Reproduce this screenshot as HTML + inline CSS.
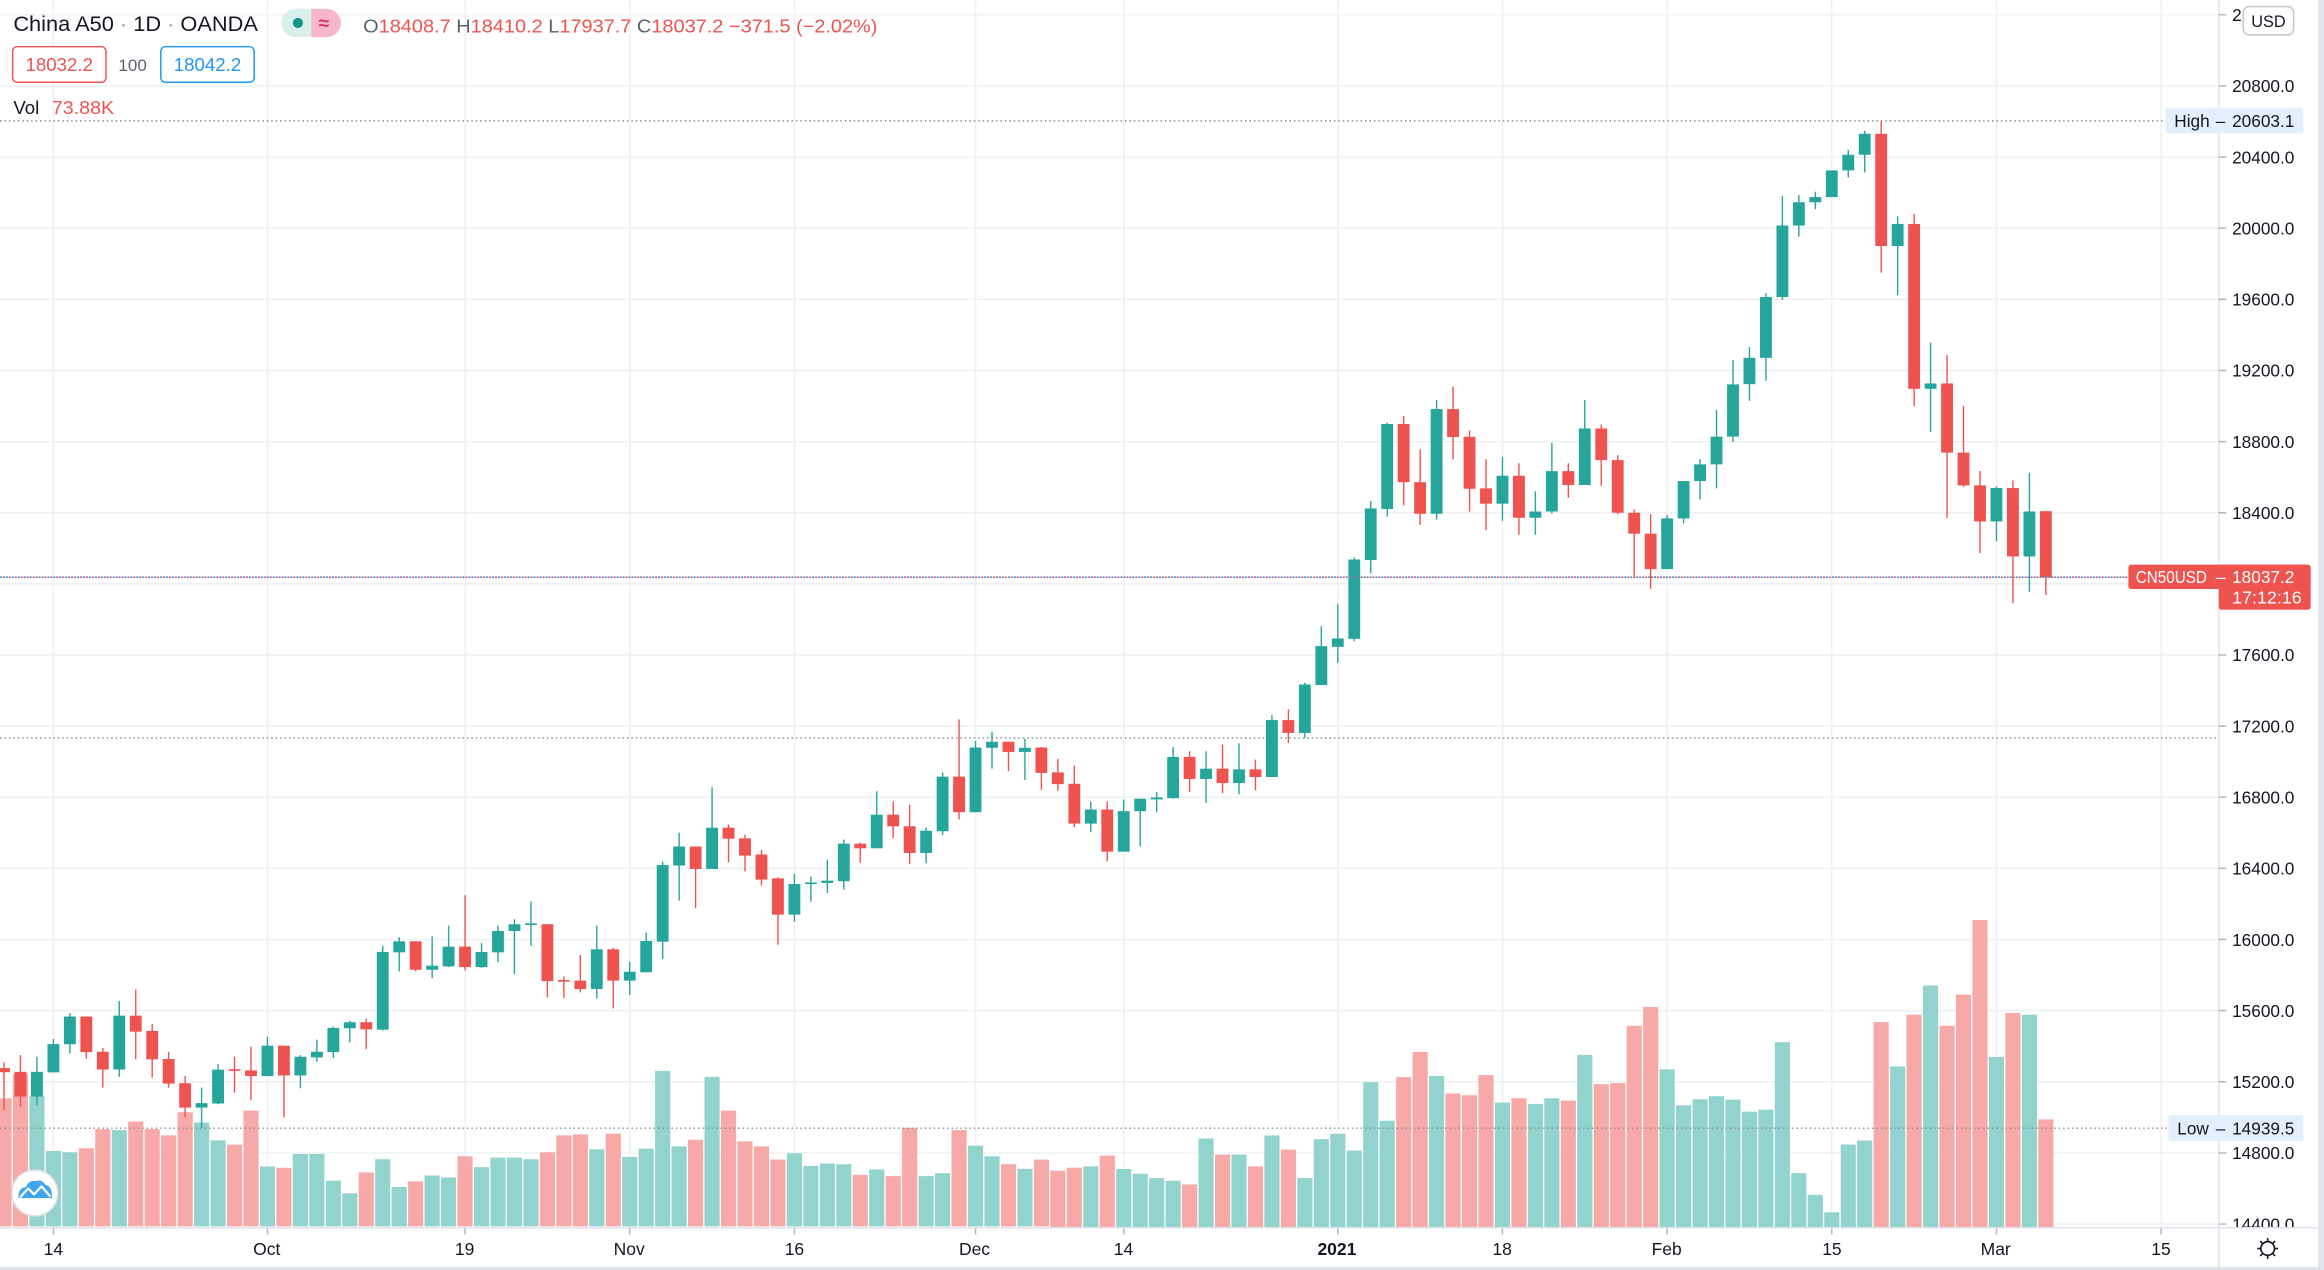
<!DOCTYPE html>
<html><head><meta charset="utf-8"><style>
html,body{margin:0;padding:0;background:#fff;}
svg{display:block;}
text{font-family:"Liberation Sans",Arial,sans-serif;}
</style></head><body>
<svg width="2324" height="1270" viewBox="0 0 1568 857" preserveAspectRatio="none" xmlns="http://www.w3.org/2000/svg">
<defs>
<clipPath id="pane"><rect x="0" y="0" width="1497" height="828"/></clipPath>
<clipPath id="axis"><rect x="1497" y="0" width="67" height="828"/></clipPath>
</defs>
<rect width="1568" height="857" fill="#fff"/>
<!-- grid -->
<g stroke="#eef0f4" stroke-width="1">
<path d="M0 10H1497M0 58H1497M0 106H1497M0 154H1497M0 202H1497M0 250H1497M0 298H1497M0 346H1497M0 394H1497M0 442H1497M0 490H1497M0 538H1497M0 586H1497M0 634H1497M0 682H1497M0 730H1497M0 778H1497M0 826H1497"/>
<path d="M36 0V828M180.5 0V828M313.8 0V828M424.9 0V828M536 0V828M658.2 0V828M758.2 0V828M902.6 0V828M1013.7 0V828M1124.8 0V828M1235.9 0V828M1347 0V828M1458.1 0V828"/>
</g>
<g clip-path="url(#pane)">
<!-- volume part 1 -->
<g transform="matrix(11.11 0 0 0.2233 2.7 702.53)">
<g fill="#f7a9a8">
<rect x="-0.46" y="173" width="0.92" height="387"/><rect x="0.54" y="99" width="0.92" height="461"/><rect x="4.54" y="324" width="0.92" height="236"/><rect x="5.54" y="266" width="0.92" height="294"/><rect x="7.54" y="243" width="0.92" height="317"/><rect x="8.54" y="266" width="0.92" height="294"/><rect x="9.54" y="285" width="0.92" height="275"/><rect x="10.54" y="215" width="0.92" height="345"/><rect x="13.54" y="313" width="0.92" height="247"/><rect x="14.54" y="210" width="0.92" height="350"/><rect x="16.54" y="383" width="0.92" height="177"/><rect x="21.54" y="397" width="0.92" height="163"/><rect x="24.54" y="424" width="0.92" height="136"/><rect x="27.54" y="348" width="0.92" height="212"/><rect x="32.54" y="336" width="0.92" height="224"/><rect x="33.54" y="285" width="0.92" height="275"/><rect x="34.54" y="282" width="0.92" height="278"/><rect x="36.54" y="280" width="0.92" height="280"/><rect x="41.54" y="298" width="0.92" height="262"/><rect x="43.54" y="210" width="0.92" height="350"/><rect x="44.54" y="303" width="0.92" height="257"/><rect x="45.54" y="318" width="0.92" height="242"/><rect x="46.54" y="358" width="0.92" height="202"/><rect x="51.54" y="404" width="0.92" height="156"/><rect x="53.54" y="408" width="0.92" height="152"/><rect x="54.54" y="262" width="0.92" height="298"/><rect x="57.54" y="269" width="0.92" height="291"/><rect x="60.54" y="372" width="0.92" height="188"/><rect x="62.54" y="358" width="0.92" height="202"/>
</g>
<g fill="#93d3cd">
<rect x="1.54" y="167" width="0.92" height="393"/><rect x="2.54" y="332" width="0.92" height="228"/><rect x="3.54" y="336" width="0.92" height="224"/><rect x="6.54" y="269" width="0.92" height="291"/><rect x="11.54" y="246" width="0.92" height="314"/><rect x="12.54" y="300" width="0.92" height="260"/><rect x="15.54" y="379" width="0.92" height="181"/><rect x="17.54" y="341" width="0.92" height="219"/><rect x="18.54" y="341" width="0.92" height="219"/><rect x="19.54" y="422" width="0.92" height="138"/><rect x="20.54" y="460" width="0.92" height="100"/><rect x="22.54" y="357" width="0.92" height="203"/><rect x="23.54" y="441" width="0.92" height="119"/><rect x="25.54" y="406" width="0.92" height="154"/><rect x="26.54" y="412" width="0.92" height="148"/><rect x="28.54" y="381" width="0.92" height="179"/><rect x="29.54" y="352" width="0.92" height="208"/><rect x="30.54" y="352" width="0.92" height="208"/><rect x="31.54" y="357" width="0.92" height="203"/><rect x="35.54" y="327" width="0.92" height="233"/><rect x="37.54" y="350" width="0.92" height="210"/><rect x="38.54" y="325" width="0.92" height="235"/><rect x="39.54" y="90" width="0.92" height="470"/><rect x="40.54" y="318" width="0.92" height="242"/><rect x="42.54" y="108" width="0.92" height="452"/><rect x="47.54" y="339" width="0.92" height="221"/><rect x="48.54" y="377" width="0.92" height="183"/><rect x="49.54" y="370" width="0.92" height="190"/><rect x="50.54" y="372" width="0.92" height="188"/><rect x="52.54" y="388" width="0.92" height="172"/><rect x="55.54" y="408" width="0.92" height="152"/><rect x="56.54" y="399" width="0.92" height="161"/><rect x="58.54" y="316" width="0.92" height="244"/><rect x="59.54" y="348" width="0.92" height="212"/><rect x="61.54" y="386" width="0.92" height="174"/>
</g>
</g>
<!-- volume part 2 -->
<g transform="matrix(11.11 0 0 0.2264 2.7 606.61)">
<g fill="#f7a9a8">
<rect x="63.54" y="810" width="0.92" height="168"/><rect x="64.54" y="801" width="0.92" height="177"/><rect x="66.54" y="765" width="0.92" height="213"/><rect x="71.54" y="851" width="0.92" height="127"/><rect x="73.54" y="762" width="0.92" height="216"/><rect x="75.54" y="797" width="0.92" height="181"/><rect x="77.54" y="747" width="0.92" height="231"/><rect x="84.54" y="531" width="0.92" height="447"/><rect x="85.54" y="456" width="0.92" height="522"/><rect x="87.54" y="580" width="0.92" height="398"/><rect x="88.54" y="585" width="0.92" height="393"/><rect x="89.54" y="525" width="0.92" height="453"/><rect x="91.54" y="594" width="0.92" height="384"/><rect x="94.54" y="601" width="0.92" height="377"/><rect x="96.54" y="552" width="0.92" height="426"/><rect x="97.54" y="549" width="0.92" height="429"/><rect x="98.54" y="378" width="0.92" height="600"/><rect x="99.54" y="322" width="0.92" height="656"/><rect x="113.54" y="367" width="0.92" height="611"/><rect x="115.54" y="345" width="0.92" height="633"/><rect x="117.54" y="378" width="0.92" height="600"/><rect x="118.54" y="285" width="0.92" height="693"/><rect x="119.54" y="63" width="0.92" height="915"/><rect x="121.54" y="340" width="0.92" height="638"/><rect x="123.54" y="657" width="0.92" height="321"/>
</g>
<g fill="#93d3cd">
<rect x="65.54" y="797" width="0.92" height="181"/><rect x="67.54" y="805" width="0.92" height="173"/><rect x="68.54" y="819" width="0.92" height="159"/><rect x="69.54" y="832" width="0.92" height="146"/><rect x="70.54" y="840" width="0.92" height="138"/><rect x="72.54" y="714" width="0.92" height="264"/><rect x="74.54" y="762" width="0.92" height="216"/><rect x="76.54" y="705" width="0.92" height="273"/><rect x="78.54" y="832" width="0.92" height="146"/><rect x="79.54" y="716" width="0.92" height="262"/><rect x="80.54" y="700" width="0.92" height="278"/><rect x="81.54" y="750" width="0.92" height="228"/><rect x="82.54" y="546" width="0.92" height="432"/><rect x="83.54" y="661" width="0.92" height="317"/><rect x="86.54" y="528" width="0.92" height="450"/><rect x="90.54" y="607" width="0.92" height="371"/><rect x="92.54" y="611" width="0.92" height="367"/><rect x="93.54" y="594" width="0.92" height="384"/><rect x="95.54" y="465" width="0.92" height="513"/><rect x="100.54" y="508" width="0.92" height="470"/><rect x="101.54" y="615" width="0.92" height="363"/><rect x="102.54" y="597" width="0.92" height="381"/><rect x="103.54" y="588" width="0.92" height="390"/><rect x="104.54" y="598" width="0.92" height="380"/><rect x="105.54" y="634" width="0.92" height="344"/><rect x="106.54" y="628" width="0.92" height="350"/><rect x="107.54" y="427" width="0.92" height="551"/><rect x="108.54" y="817" width="0.92" height="161"/><rect x="109.54" y="882" width="0.92" height="96"/><rect x="110.54" y="934" width="0.92" height="44"/><rect x="111.54" y="732" width="0.92" height="246"/><rect x="112.54" y="720" width="0.92" height="258"/><rect x="114.54" y="499" width="0.92" height="479"/><rect x="116.54" y="258" width="0.92" height="720"/><rect x="120.54" y="471" width="0.92" height="507"/><rect x="122.54" y="345" width="0.92" height="633"/>
</g>
</g>
<!-- dotted reference lines -->
<path d="M0 81.6H1461" stroke="#8a8e99" stroke-width="1" stroke-dasharray="1 2"/>
<path d="M0 761.3H1463" stroke="#8a8e99" stroke-width="1" stroke-dasharray="1 2"/>
<path d="M0 498H1497" stroke="#8a8e99" stroke-width="1" stroke-dasharray="1 2"/>
<!-- candles -->
<g transform="matrix(11.11 0 0 -0.12 2.7 2554)">
<path fill="none" stroke="#26a69a" stroke-width="1.4" vector-effect="non-scaling-stroke" d="M2 15070V15341M3 15253V15441M4 15360V15587M7 15228V15655M12 14940V15168M13 15074V15300M16 15232V15454M18 15164V15350M19 15313V15437M20 15333V15510M21 15422V15544M23 15488V15965M24 15821V16013M26 15783V16018M27 15845V16078M29 15841V15980M30 15873V16078M31 15806V16114M32 15965V16214M36 15669V16078M38 15688V15876M39 15816V16039M40 15891V16438M41 16219V16601M43 16397V16856M48 16101V16369M49 16213V16354M50 16262V16449M51 16281V16562M53 16513V16834M56 16429V16629M57 16588V16939M59 16716V17117M60 16961V17168M62 16897V17130M66 16603V16775M68 16494V16788M69 16524V16792M70 16716V16829M71 16792V17083M73 16767V17059M75 16816V17104M77 16914V17262M79 17134V17445M80 17431V17762M81 17556V17886M82 17678V18149M83 18059V18466M84 18378V18906M87 18361V19034M91 18355V18713M93 18276V18520M94 18396V18792M96 18556V19034M101 18083V18387M102 18340V18578M103 18475V18702M104 18537V18978M105 18798V19258M106 19029V19331M107 19142V19634M108 19596V20182M109 19953V20186M110 20107V20205M111 20175V20325M112 20285V20441M113 20314V20548M115 19624V20066M117 18854V19356M121 18240V18548M123 17956V18625"/>
<path fill="none" stroke="#ef5350" stroke-width="1.4" vector-effect="non-scaling-stroke" d="M0 15040V15309M1 15060V15350M5 15330V15567M6 15168V15390M8 15326V15719M9 15224V15525M10 15168V15369M11 15002V15232M14 15140V15341M15 15096V15397M17 14999V15403M22 15384V15555M25 15821V15990M28 15826V16250M33 15674V16086M34 15671V15793M35 15703V15913M37 15613V15954M42 16176V16523M44 16434V16646M45 16384V16590M46 16303V16504M47 15971V16350M52 16431V16545M54 16571V16777M55 16423V16757M58 16675V17238M61 16946V17112M63 16841V17083M64 16837V17016M65 16632V16978M67 16440V16777M72 16829V17059M74 16824V17096M76 16839V17012M78 17106V17294M85 18441V18944M86 18332V18756M88 18700V19109M89 18406V18863M90 18302V18700M92 18276V18678M95 18484V18678M97 18552V18897M98 18391V18724M99 18040V18419M100 17972V18392M114 19750V20603M116 19000V20081M118 18370V19286M119 18545V19000M120 18173V18635M122 17891V18582M124 17937.7V18410.2"/>
<g fill="#26a69a">
<rect x="1.64" y="15117" width="0.72" height="139"/><rect x="2.64" y="15253" width="0.72" height="159"/><rect x="3.64" y="15411" width="0.72" height="156"/><rect x="6.64" y="15269" width="0.72" height="303"/><rect x="11.64" y="15055" width="0.72" height="25"/><rect x="12.64" y="15078" width="0.72" height="190"/><rect x="15.64" y="15232" width="0.72" height="171"/><rect x="17.64" y="15236" width="0.72" height="105"/><rect x="18.64" y="15337" width="0.72" height="32"/><rect x="19.64" y="15367" width="0.72" height="136"/><rect x="20.64" y="15501" width="0.72" height="34"/><rect x="22.64" y="15493" width="0.72" height="437"/><rect x="23.64" y="15928" width="0.72" height="62"/><rect x="25.64" y="15830" width="0.72" height="23"/><rect x="26.64" y="15849" width="0.72" height="111"/><rect x="28.64" y="15845" width="0.72" height="85"/><rect x="29.64" y="15928" width="0.72" height="120"/><rect x="30.64" y="16048" width="0.72" height="38"/><rect x="31.64" y="16082" width="0.72" height="9"/><rect x="35.64" y="15722" width="0.72" height="223"/><rect x="37.64" y="15769" width="0.72" height="50"/><rect x="38.64" y="15816" width="0.72" height="176"/><rect x="39.64" y="15988" width="0.72" height="431"/><rect x="40.64" y="16416" width="0.72" height="107"/><rect x="42.64" y="16397" width="0.72" height="232"/><rect x="47.64" y="16140" width="0.72" height="172"/><rect x="48.64" y="16312" width="0.72" height="9"/><rect x="49.64" y="16318" width="0.72" height="13"/><rect x="50.64" y="16328" width="0.72" height="211"/><rect x="52.64" y="16513" width="0.72" height="189"/><rect x="55.64" y="16487" width="0.72" height="125"/><rect x="56.64" y="16609" width="0.72" height="307"/><rect x="58.64" y="16716" width="0.72" height="364"/><rect x="59.64" y="17078" width="0.72" height="34"/><rect x="61.64" y="17055" width="0.72" height="23"/><rect x="65.64" y="16652" width="0.72" height="79"/><rect x="67.64" y="16494" width="0.72" height="228"/><rect x="68.64" y="16722" width="0.72" height="70"/><rect x="69.64" y="16788" width="0.72" height="11"/><rect x="70.64" y="16795" width="0.72" height="232"/><rect x="72.64" y="16903" width="0.72" height="58"/><rect x="74.64" y="16880" width="0.72" height="77"/><rect x="76.64" y="16914" width="0.72" height="320"/><rect x="78.64" y="17162" width="0.72" height="272"/><rect x="79.64" y="17431" width="0.72" height="219"/><rect x="80.64" y="17646" width="0.72" height="47"/><rect x="81.64" y="17691" width="0.72" height="446"/><rect x="82.64" y="18134" width="0.72" height="290"/><rect x="83.64" y="18421" width="0.72" height="478"/><rect x="86.64" y="18394" width="0.72" height="589"/><rect x="90.64" y="18451" width="0.72" height="157"/><rect x="92.64" y="18372" width="0.72" height="35"/><rect x="93.64" y="18407" width="0.72" height="227"/><rect x="95.64" y="18556" width="0.72" height="318"/><rect x="100.64" y="18083" width="0.72" height="285"/><rect x="101.64" y="18368" width="0.72" height="210"/><rect x="102.64" y="18578" width="0.72" height="94"/><rect x="103.64" y="18672" width="0.72" height="156"/><rect x="104.64" y="18828" width="0.72" height="294"/><rect x="105.64" y="19123" width="0.72" height="148"/><rect x="106.64" y="19271" width="0.72" height="342"/><rect x="107.64" y="19613" width="0.72" height="402"/><rect x="108.64" y="20015" width="0.72" height="131"/><rect x="109.64" y="20146" width="0.72" height="29"/><rect x="110.64" y="20175" width="0.72" height="150"/><rect x="111.64" y="20325" width="0.72" height="88"/><rect x="112.64" y="20413" width="0.72" height="118"/><rect x="114.64" y="19900" width="0.72" height="124"/><rect x="116.64" y="19097" width="0.72" height="30"/><rect x="120.64" y="18351" width="0.72" height="188"/><rect x="122.64" y="18154" width="0.72" height="253"/>
</g>
<g fill="#ef5350">
<rect x="-0.36" y="15254" width="0.72" height="23"/><rect x="0.64" y="15117" width="0.72" height="139"/><rect x="4.64" y="15367" width="0.72" height="200"/><rect x="5.64" y="15269" width="0.72" height="100"/><rect x="7.64" y="15482" width="0.72" height="90"/><rect x="8.64" y="15326" width="0.72" height="160"/><rect x="9.64" y="15190" width="0.72" height="138"/><rect x="10.64" y="15055" width="0.72" height="137"/><rect x="13.64" y="15262" width="0.72" height="9"/><rect x="14.64" y="15232" width="0.72" height="32"/><rect x="16.64" y="15236" width="0.72" height="167"/><rect x="21.64" y="15495" width="0.72" height="40"/><rect x="24.64" y="15830" width="0.72" height="160"/><rect x="27.64" y="15845" width="0.72" height="115"/><rect x="32.64" y="15766" width="0.72" height="320"/><rect x="33.64" y="15763" width="0.72" height="9"/><rect x="34.64" y="15722" width="0.72" height="47"/><rect x="36.64" y="15769" width="0.72" height="176"/><rect x="41.64" y="16397" width="0.72" height="126"/><rect x="43.64" y="16567" width="0.72" height="62"/><rect x="44.64" y="16472" width="0.72" height="97"/><rect x="45.64" y="16337" width="0.72" height="141"/><rect x="46.64" y="16140" width="0.72" height="204"/><rect x="51.64" y="16513" width="0.72" height="26"/><rect x="53.64" y="16637" width="0.72" height="65"/><rect x="54.64" y="16487" width="0.72" height="150"/><rect x="57.64" y="16716" width="0.72" height="200"/><rect x="60.64" y="17055" width="0.72" height="57"/><rect x="62.64" y="16937" width="0.72" height="143"/><rect x="63.64" y="16874" width="0.72" height="66"/><rect x="64.64" y="16652" width="0.72" height="224"/><rect x="66.64" y="16494" width="0.72" height="237"/><rect x="71.64" y="16903" width="0.72" height="124"/><rect x="73.64" y="16880" width="0.72" height="81"/><rect x="75.64" y="16914" width="0.72" height="43"/><rect x="77.64" y="17162" width="0.72" height="72"/><rect x="84.64" y="18572" width="0.72" height="327"/><rect x="85.64" y="18394" width="0.72" height="178"/><rect x="87.64" y="18826" width="0.72" height="157"/><rect x="88.64" y="18535" width="0.72" height="292"/><rect x="89.64" y="18451" width="0.72" height="86"/><rect x="91.64" y="18372" width="0.72" height="236"/><rect x="94.64" y="18556" width="0.72" height="78"/><rect x="96.64" y="18696" width="0.72" height="178"/><rect x="97.64" y="18400" width="0.72" height="296"/><rect x="98.64" y="18282" width="0.72" height="118"/><rect x="99.64" y="18083" width="0.72" height="199"/><rect x="113.64" y="19900" width="0.72" height="631"/><rect x="115.64" y="19097" width="0.72" height="927"/><rect x="117.64" y="18738" width="0.72" height="389"/><rect x="118.64" y="18554" width="0.72" height="184"/><rect x="119.64" y="18351" width="0.72" height="203"/><rect x="121.64" y="18154" width="0.72" height="385"/><rect x="123.64" y="18037.2" width="0.72" height="371.5"/>
</g>
</g>
<!-- current price line -->
<path d="M0 389.5H1436" stroke="#2196f3" stroke-width="1.1" stroke-dasharray="1.3 2.7"/>
<path d="M2 389.5H1436" stroke="#ef5350" stroke-width="1.1" stroke-dasharray="1.3 2.7"/>
</g>
<!-- logo -->
<circle cx="23.5" cy="805" r="15.5" fill="#fff" stroke="#dfe1e6" stroke-width="1"/>
<path d="M12.5 808.5 Q12 801.5 17.5 801 Q19.5 796 24.5 797 Q28.5 795.5 30.5 799.5 Q35.5 800.5 35 808.5 Z" fill="#3fa5ee"/>
<path d="M13.5 808 L19 802 L23 806 L28 800.5 L34 807.5" fill="none" stroke="#fff" stroke-width="1.5" stroke-linejoin="round"/>
<!-- axes borders -->
<path d="M1497 0V857" stroke="#e0e3eb" stroke-width="1"/>
<path d="M0 828.5H1564" stroke="#e0e3eb" stroke-width="1"/>
<rect x="1564" y="0" width="4" height="857" fill="#e0e3eb"/>
<rect x="0" y="855" width="1568" height="2" fill="#e0e3eb"/>
<!-- price axis ticks + labels -->
<g stroke="#b2b5be" stroke-width="1">
<path d="M1497 10H1502M1497 58H1502M1497 106H1502M1497 154H1502M1497 202H1502M1497 250H1502M1497 298H1502M1497 346H1502M1497 442H1502M1497 490H1502M1497 538H1502M1497 586H1502M1497 634H1502M1497 682H1502M1497 730H1502M1497 778H1502M1497 826H1502"/>
</g>
<g clip-path="url(#axis)" font-size="11.6" fill="#131722">
<text x="1506" y="14.2" textLength="42" lengthAdjust="spacingAndGlyphs">21200.0</text>
<text x="1506" y="62.2" textLength="42" lengthAdjust="spacingAndGlyphs">20800.0</text>
<text x="1506" y="110.2" textLength="42" lengthAdjust="spacingAndGlyphs">20400.0</text>
<text x="1506" y="158.2" textLength="42" lengthAdjust="spacingAndGlyphs">20000.0</text>
<text x="1506" y="206.2" textLength="42" lengthAdjust="spacingAndGlyphs">19600.0</text>
<text x="1506" y="254.2" textLength="42" lengthAdjust="spacingAndGlyphs">19200.0</text>
<text x="1506" y="302.2" textLength="42" lengthAdjust="spacingAndGlyphs">18800.0</text>
<text x="1506" y="350.2" textLength="42" lengthAdjust="spacingAndGlyphs">18400.0</text>
<text x="1506" y="446.2" textLength="42" lengthAdjust="spacingAndGlyphs">17600.0</text>
<text x="1506" y="494.2" textLength="42" lengthAdjust="spacingAndGlyphs">17200.0</text>
<text x="1506" y="542.2" textLength="42" lengthAdjust="spacingAndGlyphs">16800.0</text>
<text x="1506" y="590.2" textLength="42" lengthAdjust="spacingAndGlyphs">16400.0</text>
<text x="1506" y="638.2" textLength="42" lengthAdjust="spacingAndGlyphs">16000.0</text>
<text x="1506" y="686.2" textLength="42" lengthAdjust="spacingAndGlyphs">15600.0</text>
<text x="1506" y="734.2" textLength="42" lengthAdjust="spacingAndGlyphs">15200.0</text>
<text x="1506" y="782.2" textLength="42" lengthAdjust="spacingAndGlyphs">14800.0</text>
<text x="1506" y="830.2" textLength="42" lengthAdjust="spacingAndGlyphs">14400.0</text>
</g>
<!-- USD button -->
<rect x="1513.5" y="4.5" width="34" height="19" rx="4" fill="#fff" stroke="#c3c6ce" stroke-width="1"/>
<text x="1530.5" y="18.3" font-size="11" fill="#131722" text-anchor="middle">USD</text>
<!-- High / Low labels -->
<rect x="1461" y="73" width="93" height="17" rx="1.5" fill="#e3effd"/>
<text x="1467" y="85.6" font-size="11.6" fill="#131722">High</text>
<text x="1495" y="85.6" font-size="11.6" fill="#131722">–</text>
<text x="1506" y="85.6" font-size="11.6" fill="#131722" textLength="42" lengthAdjust="spacingAndGlyphs">20603.1</text>
<rect x="1463" y="752.5" width="91" height="17.5" rx="1.5" fill="#e3effd"/>
<text x="1469" y="765.4" font-size="11.6" fill="#131722">Low</text>
<text x="1495" y="765.4" font-size="11.6" fill="#131722">–</text>
<text x="1506" y="765.4" font-size="11.6" fill="#131722" textLength="42" lengthAdjust="spacingAndGlyphs">14939.5</text>
<!-- current price label -->
<rect x="1436" y="381" width="123" height="16.5" rx="2" fill="#ef5350"/>
<rect x="1497" y="381" width="62" height="30.5" rx="2" fill="#ef5350"/>
<text x="1441" y="393.5" font-size="11.6" fill="#fff" textLength="48" lengthAdjust="spacingAndGlyphs">CN50USD</text>
<text x="1495" y="393.5" font-size="11.6" fill="#fff">–</text>
<text x="1506" y="393.5" font-size="11.6" fill="#fff" textLength="42" lengthAdjust="spacingAndGlyphs">18037.2</text>
<text x="1506" y="407.3" font-size="11.6" fill="#fff" textLength="47" lengthAdjust="spacingAndGlyphs">17:12:16</text>
<!-- time axis -->
<g stroke="#b2b5be" stroke-width="1">
<path d="M36 829V833M180.5 829V833M313.8 829V833M424.9 829V833M536 829V833M658.2 829V833M758.2 829V833M902.6 829V833M1013.7 829V833M1124.8 829V833M1235.9 829V833M1347 829V833M1458.1 829V833"/>
</g>
<g font-size="11.8" fill="#131722" text-anchor="middle">
<text x="36" y="847">14</text>
<text x="180" y="847">Oct</text>
<text x="313.5" y="847">19</text>
<text x="424.5" y="847">Nov</text>
<text x="536" y="847">16</text>
<text x="657.5" y="847">Dec</text>
<text x="758" y="847">14</text>
<text x="902" y="847" font-weight="bold">2021</text>
<text x="1013.5" y="847">18</text>
<text x="1124.5" y="847">Feb</text>
<text x="1236" y="847">15</text>
<text x="1346.5" y="847">Mar</text>
<text x="1458" y="847">15</text>
</g>
<!-- settings gear -->
<g stroke="#131722" stroke-width="1.1" fill="none">
<circle cx="1530" cy="842.5" r="4.6"/>
<path d="M1530 835.5V837.5M1530 847.5V849.5M1523 842.5H1525M1535 842.5H1537M1525 837.5L1526.5 839M1533.5 846L1535 847.5M1535 837.5L1533.5 839M1526.5 846L1525 847.5"/>
</g>
<!-- header -->
<text x="9" y="21" font-size="14.5" fill="#131722" textLength="165" lengthAdjust="spacingAndGlyphs">China A50<tspan fill="#9598a1"> · </tspan>1D<tspan fill="#9598a1"> · </tspan>OANDA</text>
<rect x="190" y="6" width="40" height="19" rx="9.5" fill="#f6b6cc"/>
<path d="M199.5 6 H210 V25 H199.5 A9.5 9.5 0 0 1 199.5 6 Z" fill="#d8efeb"/>
<circle cx="201" cy="15.5" r="3.4" fill="#139486"/>
<text x="218.5" y="20" font-size="13" fill="#d6336c" text-anchor="middle" font-weight="bold">≈</text>
<text x="245" y="22" font-size="12.6" textLength="347" lengthAdjust="spacingAndGlyphs"><tspan fill="#5d606b">O</tspan><tspan fill="#ef5350">18408.7 </tspan><tspan fill="#5d606b">H</tspan><tspan fill="#ef5350">18410.2 </tspan><tspan fill="#5d606b">L</tspan><tspan fill="#ef5350">17937.7 </tspan><tspan fill="#5d606b">C</tspan><tspan fill="#ef5350">18037.2 −371.5 (−2.02%)</tspan></text>
<rect x="8.5" y="31.5" width="63" height="24" rx="3" fill="#fff" stroke="#ef5350" stroke-width="1"/>
<text x="40" y="48" font-size="12.6" fill="#ef5350" text-anchor="middle">18032.2</text>
<text x="89.5" y="48" font-size="11.5" fill="#5d606b" text-anchor="middle">100</text>
<rect x="108.5" y="31.5" width="63" height="24" rx="3" fill="#fff" stroke="#2196f3" stroke-width="1"/>
<text x="140" y="48" font-size="12.6" fill="#2196f3" text-anchor="middle">18042.2</text>
<text x="9" y="77" font-size="12.6" fill="#131722">Vol</text>
<text x="35" y="77" font-size="12.6" fill="#ef5350" textLength="42" lengthAdjust="spacingAndGlyphs">73.88K</text>
</svg>
</body></html>
